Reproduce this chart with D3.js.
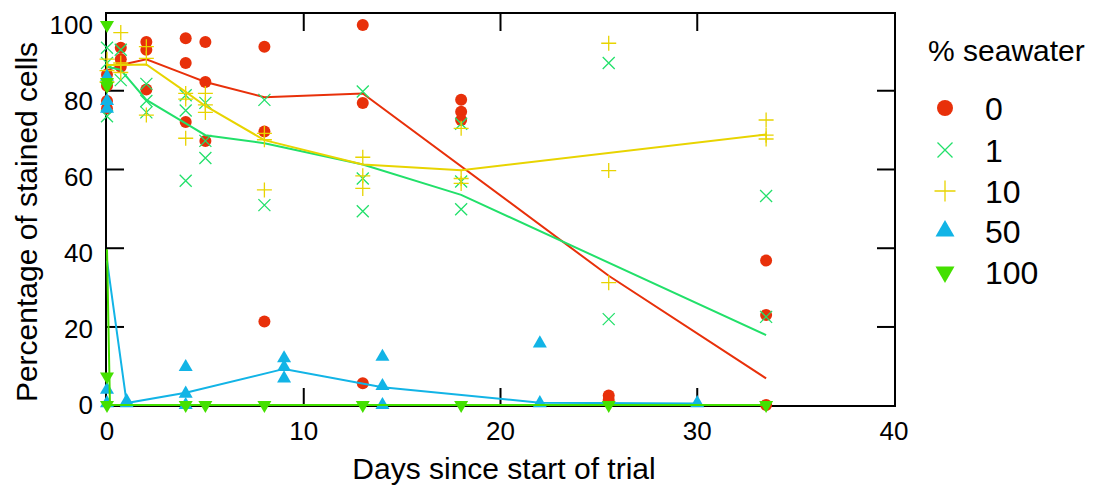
<!DOCTYPE html>
<html>
<head>
<meta charset="utf-8">
<script src="https://cdn.jsdelivr.net/npm/d3@7"></script>
<style>
  body { margin: 0; background: #fff; }
  text { font-family: "Liberation Sans", Arial, sans-serif; fill: #000; }
</style>
</head>
<body>
<div id="chart"></div>
<script>
// points: [day, % stained]
var pts0 = [[0,87],[0,84],[0,80],[0,78],[0.7,94],[0.7,91],[0.7,89],[2,95.5],[2,93.5],[2,83],
  [4,96.5],[4,90],[4,74.5],[5,95.5],[5,85],[5,69.5],[8,94.3],[8,72],[8,22],[13,100],[13,79.5],[13,5.7],
  [18,80.3],[18,77.2],[18,75],[25.5,2.5],[25.5,1.3],[33.5,38],[33.5,23.7],[33.5,0]];
var mean0 = [[0,88],[0.7,89.5],[2,91],[4,87],[5,85],[8,81],[13,82],[25.5,34],[33.5,7]];

var pts1 = [[0,94],[0,90],[0,76],[0.7,93.5],[0.7,85.5],[2,84.5],[2,80],[2,77],[4,81.5],[4,77.5],[4,59],
  [5,79.5],[5,69.5],[5,65],[8,80.3],[8,52.6],[13,82.5],[13,59.6],[13,51],[18,74],[18,58.8],[18,51.5],
  [25.5,90],[25.5,22.6],[33.5,55],[33.5,23.2]];
var mean1 = [[0,89],[0.7,88.2],[2,80.3],[4,74.1],[5,71],[8,68.9],[13,63.3],[18,55.3],[33.5,18.4]];

var pts10 = [[0,91],[0,88],[0,85],[0.7,98],[0.7,90],[0.7,87.5],[2,94.3],[2,91.2],[2,76.3],[4,82],[4,80.5],[4,70.2],
  [5,82],[5,79],[5,77],[8,71.5],[8,69.8],[8,56.6],[13,65.2],[13,60.3],[13,57],[18,72.8],[18,59.6],[18,58.3],
  [25.5,95.2],[25.5,61.7],[25.5,32.2],[33.5,75],[33.5,71],[33.5,70]];
var mean10 = [[0,89.5],[0.7,89.5],[2,89.6],[4,82.4],[5,78.7],[8,69.7],[13,63.3],[18,61.8],[33.5,71.2]];

var pts50 = [[0,86.4],[0,80],[0,78],[0,4],[0,0.5],[1,1],[1,0.5],[4,10],[4,3],[4,0],[9,12.3],[9,10],[9,7],
  [14,12.7],[14,5],[14,0],[22,16.2],[22,0.5],[30,0.5]];
var mean50 = [[0,38],[1,0.5],[4,3.2],[9,9.5],[14,4.7],[22,0.6],[30,0.4]];

var pts100 = [[0,100],[0,85],[0,84],[0,7.5],[0,0],[4,0],[5,0],[8,0],[13,0],[18,0],[25.5,0],[33.5,0]];
var mean100 = [[0,41],[0.15,0],[4,0],[5,0],[8,0],[13,0],[18,0],[25.5,0],[33.5,0]];

var seriesNames = ["0", "1", "10", "50", "100"];
var xTicks = [0, 10, 20, 30, 40];
var yTicks = [0, 20, 40, 60, 80, 100];

var colors = ["#e8300a", "#22e06a", "#e8d400", "#12b4e6", "#44e000"];
var shapes = ["circle", "x", "plus", "up", "down"];
var allPts = [pts0, pts1, pts10, pts50, pts100];
var allMeans = [mean0, mean1, mean10, mean50, mean100];

var W = 1103, H = 486;
var svg = d3.select("#chart").append("svg").attr("width", W).attr("height", H);

// data scales
var x = d3.scaleLinear().domain([0, 40]).range([107, 894]);
var y = d3.scaleLinear().domain([0, 100]).range([405, 25]);
// tick marks sit on a slightly different spacing than the labels in the original
var yTickPos = d3.scaleLinear().domain([0, 100]).range([405.7, 12]);

var frame = { left: 106, right: 895, top: 13, bottom: 406 };
var tickLen = 18;

// frame
svg.append("rect")
  .attr("x", frame.left).attr("y", frame.top)
  .attr("width", frame.right - frame.left).attr("height", frame.bottom - frame.top)
  .attr("fill", "none").attr("stroke", "#000").attr("stroke-width", 2);

// inward ticks
xTicks.slice(1, -1).forEach(function (t) {
  svg.append("line").attr("x1", x(t)).attr("x2", x(t)).attr("y1", frame.bottom).attr("y2", frame.bottom - tickLen)
    .attr("stroke", "#000").attr("stroke-width", 2);
  svg.append("line").attr("x1", x(t)).attr("x2", x(t)).attr("y1", frame.top).attr("y2", frame.top + tickLen)
    .attr("stroke", "#000").attr("stroke-width", 2);
});
yTicks.slice(1, -1).forEach(function (t) {
  svg.append("line").attr("x1", frame.left).attr("x2", frame.left + tickLen).attr("y1", yTickPos(t)).attr("y2", yTickPos(t))
    .attr("stroke", "#000").attr("stroke-width", 2);
  svg.append("line").attr("x1", frame.right).attr("x2", frame.right - tickLen).attr("y1", yTickPos(t)).attr("y2", yTickPos(t))
    .attr("stroke", "#000").attr("stroke-width", 2);
});

// tick labels
svg.selectAll(".xlab").data(xTicks).enter().append("text")
  .attr("x", function (d) { return x(d); }).attr("y", 440)
  .attr("text-anchor", "middle").style("font-size", "26px")
  .text(function (d) { return d; });

svg.selectAll(".ylab").data(yTicks).enter().append("text")
  .attr("x", 93).attr("y", function (d) { return y(d); }).attr("dy", "0.35em")
  .attr("text-anchor", "end").style("font-size", "26px")
  .text(function (d) { return d; });

// axis titles
svg.append("text").attr("x", 504).attr("y", 479).attr("text-anchor", "middle")
  .style("font-size", "30px").text("Days since start of trial");
svg.append("text").attr("transform", "translate(37,222) rotate(-90)").attr("text-anchor", "middle")
  .style("font-size", "30px").text("Percentage of stained cells");

// marker drawing
function drawMarker(g, shape, color, cx, cy, big) {
  if (shape === "circle") {
    g.append("circle").attr("cx", cx).attr("cy", cy).attr("r", big ? 8 : 6).attr("fill", color);
  } else if (shape === "x") {
    var s = big ? 7.5 : 6;
    g.append("path").attr("d", "M" + (cx - s) + "," + (cy - s) + "L" + (cx + s) + "," + (cy + s) +
      "M" + (cx - s) + "," + (cy + s) + "L" + (cx + s) + "," + (cy - s))
      .attr("stroke", color).attr("stroke-width", 1.3).attr("fill", "none");
  } else if (shape === "plus") {
    var p = big ? 10.5 : 7.5;
    g.append("path").attr("d", "M" + (cx - p) + "," + cy + "L" + (cx + p) + "," + cy +
      "M" + cx + "," + (cy - p) + "L" + cx + "," + (cy + p))
      .attr("stroke", color).attr("stroke-width", 1.3).attr("fill", "none");
  } else {
    var sym = d3.symbol().type(d3.symbolTriangle).size(big ? 156 : 85);
    g.append("path").attr("d", sym())
      .attr("transform", "translate(" + cx + "," + cy + ")" + (shape === "down" ? " rotate(180)" : ""))
      .attr("fill", color);
  }
}

var line = d3.line().x(function (d) { return x(d[0]); }).y(function (d) { return y(d[1]); });

seriesNames.forEach(function (name, i) {
  var g = svg.append("g").attr("class", "series s" + i);
  allPts[i].forEach(function (d) {
    drawMarker(g, shapes[i], colors[i], x(d[0]), y(d[1]), false);
  });
  g.append("path").datum(allMeans[i]).attr("d", line)
    .attr("fill", "none").attr("stroke", colors[i]).attr("stroke-width", 2);
});

// legend
svg.append("text").attr("x", 928).attr("y", 61).style("font-size", "30px").text("% seawater");
var legY = [108, 150, 191, 231, 272];
seriesNames.forEach(function (name, i) {
  var g = svg.append("g").attr("class", "legend");
  drawMarker(g, shapes[i], colors[i], 945, legY[i], true);
  g.append("text").attr("x", 985).attr("y", legY[i]).attr("dy", "0.36em")
    .style("font-size", "32px").text(name);
});
</script>
</body>
</html>
